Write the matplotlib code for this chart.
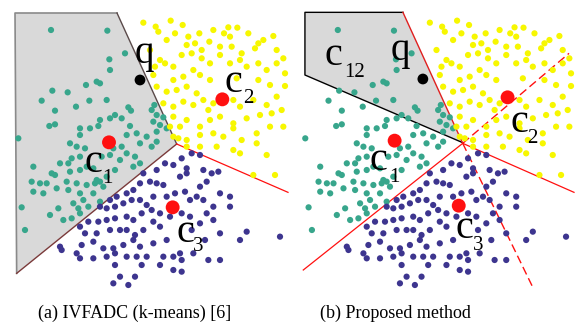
import matplotlib
matplotlib.use("Agg")
import matplotlib.pyplot as plt
from matplotlib.patches import Polygon

# ---- data (arbitrary schematic units, y grows downward) ----
green_pts = [(153,90),(322,92),(375,160),(328,178),(330,210),(290,245),(300,250),(258,255),(157,272),(203,277),
             (125,302),(268,302),(320,300),(165,332),(228,320),(385,322),(393,332),(345,345),(330,355),(365,355),
             (300,360),(463,315),(455,330),(470,345),(490,352),(460,365),(480,375),(500,385),(148,378),(165,373),
             (240,385),(270,385),(240,405),(295,378),(390,378),(380,405),(410,400),(440,410),(470,395),(55,415),
             (210,430),(230,440),(255,445),(340,445),(365,440),(420,430),(455,440),(470,425),(180,490),(205,490),
             (215,475),(240,470),(260,500),(305,470),(330,465),(360,480),(380,460),(405,470),(100,500),(155,520),
             (165,525),(210,515),(240,510),(280,505),(290,540),(300,545),(320,530),(345,510),(400,500),(420,490),
             (95,545),(120,550),(140,550),(200,545),(230,550),(260,555),(285,550),(310,560),(100,575),(130,580),
             (170,565),(205,570),(240,580),(280,580),(250,600),(220,610),(235,625),(265,620),(300,605),(65,622),
             (190,660),(215,655),(240,640),(75,690),(150,645),(175,625)]
yellow_pts = [(430,68),(467,80),(512,62),(548,75),(475,95),(500,120),(525,100),(565,110),(598,100),(640,90),
              (685,82),(712,83),(672,100),(690,110),(745,100),(775,130),(820,108),(790,120),(560,135),(585,130),
              (605,150),(628,125),(660,140),(695,140),(725,160),(765,145),(830,150),(850,175),(450,150),(480,180),
              (495,190),(520,200),(545,165),(575,160),(605,175),(630,190),(660,165),(690,190),(720,180),(740,200),
              (775,190),(800,210),(830,190),(855,220),(465,200),(460,225),(520,240),(550,230),(580,210),(600,225),
              (630,240),(710,235),(775,240),(810,255),(855,258),(470,260),(500,275),(530,270),(560,260),(590,280),
              (610,300),(625,330),(640,310),(700,300),(720,320),(760,300),(800,315),(830,290),(490,310),(520,320),
              (550,305),(580,315),(520,350),(540,380),(560,360),(600,380),(630,360),(660,350),(700,370),(740,355),
              (780,345),(815,340),(845,330),(850,380),(810,380),(600,405),(640,400),(670,410),(700,385),(725,420),
              (770,400),(535,415),(560,420),(600,440),(650,440),(700,450),(720,460),(770,430),(800,465),(760,525),
              (825,525),(560,440),(510,380),(520,410)]
purple_pts = [(575,460),(600,465),(545,475),(495,490),(520,495),(470,510),(430,520),(450,545),(470,550),(490,555),
              (420,550),(400,570),(380,580),(350,590),(330,600),(300,620),(320,625),(345,620),(370,610),(395,600),
              (420,600),(440,615),(460,590),(500,590),(525,580),(555,575),(600,560),(620,545),(635,520),(655,515),
              (610,510),(560,520),(540,530),(560,505),(590,590),(570,600),(610,600),(640,620),(690,620),(660,580),
              (690,590),(480,640),(455,630),(425,640),(400,660),(380,650),(345,655),(320,660),(295,665),(265,665),
              (240,680),(255,700),(290,700),(330,690),(360,690),(380,690),(405,705),(430,690),(460,665),(480,680),
              (510,650),(545,640),(570,650),(575,690),(600,670),(620,640),(640,660),(660,700),(740,695),(720,720),
              (840,710),(615,720),(500,720),(460,730),(420,740),(400,720),(370,735),(340,745),(310,745),(280,725),
              (245,735),(180,740),(185,750),(230,760),(240,775),(280,775),(320,770),(345,760),(380,770),(410,770),
              (440,770),(490,770),(540,760),(545,780),(580,760),(625,780),(660,780),(425,795),(405,830),(385,855),
              (360,830),(340,850),(345,795),(520,810),(545,815),(480,795),(520,770)]

centers_a = [(327,427),(667,298),(518,622)]
query_a = (420,240)
centers_b = [(324,422),(664,292),(517,617)]
query_b = (409,237)

region_a = [(45,39),(351,39),(530,432),(50,820)]
region_b = [(54,37),(349,37),(529,428),(54,225)]
junction = (529,430)
ends_solid = [(49,810),(864,577)]
ends_dashed = [(849,160),(739,860)]

captions = ["(a) IVFADC (k-means) [6]", "(b) Proposed method"]

# ---- styles ----
C_GREEN = "#38a68c"
C_YELLOW = "#f7f700"
C_PURPLE = "#3d358f"
C_RED = "#ff1010"
SERIF = "Liberation Serif"

W, H = 576, 322
fig = plt.figure(figsize=(W/100, H/100), dpi=100)
axA = fig.add_axes([0, 32/H, 290/W, 290/H])
axB = fig.add_axes([287/W, 32/H, 289/W, 290/H])
for ax in (axA, axB):
    ax.set_xlim(0, 870)
    ax.set_ylim(870, 0)
    ax.axis("off")

def scatter_all(ax, centers, q):
    for pts, col in ((green_pts, C_GREEN), (yellow_pts, C_YELLOW), (purple_pts, C_PURPLE)):
        xs = [p[0] for p in pts]; ys = [p[1] for p in pts]
        ax.scatter(xs, ys, s=20, color=col, edgecolors="none", zorder=3)
    ax.scatter([c[0] for c in centers], [c[1] for c in centers], s=100, color=C_RED,
               edgecolors="none", zorder=5)
    ax.scatter([q[0]], [q[1]], s=60, color="black", edgecolors="none", zorder=5)

# panel (a)
axA.add_patch(Polygon(region_a, closed=False, facecolor="#d9d9d9", edgecolor="none", zorder=1))
axA.plot([region_a[3][0], region_a[0][0], region_a[1][0]], [region_a[3][1], region_a[0][1], region_a[1][1]],
         color="#8a8a8a", lw=1.2, zorder=2)
axA.plot([region_a[1][0], region_a[2][0]], [region_a[1][1], region_a[2][1]], color="#5a4a4a", lw=1.0, zorder=2)
axA.plot([region_a[2][0], region_a[3][0]], [region_a[2][1], region_a[3][1]], color="#7a3a3a", lw=1.0, zorder=2)
axA.plot([region_a[2][0], ends_solid[1][0]], [region_a[2][1], ends_solid[1][1]], color=C_RED, lw=0.9, zorder=2)
scatter_all(axA, centers_a, query_a)

def lbl(ax, x, y, s, size):
    ax.text(x, y, s, fontsize=size, family=SERIF, ha="left", va="baseline", zorder=6)

lbl(axA, 255, 515, "c", 29); lbl(axA, 306, 548, "1", 15)
lbl(axA, 675, 275, "c", 29); lbl(axA, 728, 310, "2", 15)
lbl(axA, 528, 725, "c", 29); lbl(axA, 580, 752, "3", 15)
lbl(axA, 403, 190, "q", 28)

# panel (b)
axB.add_patch(Polygon(region_b, closed=True, facecolor="#d9d9d9", edgecolor="none", zorder=1))
axB.plot([region_b[2][0], region_b[3][0], region_b[0][0], region_b[1][0]],
         [region_b[2][1], region_b[3][1], region_b[0][1], region_b[1][1]], color="black", lw=1.0, zorder=2)
axB.plot([region_b[1][0], junction[0]], [region_b[1][1], junction[1]], color="#e02020", lw=1.0, zorder=2)
for e in ends_solid:
    axB.plot([junction[0], e[0]], [junction[1], e[1]], color=C_RED, lw=0.9, zorder=2)
for e in ends_dashed:
    axB.plot([junction[0], e[0]], [junction[1], e[1]], color=C_RED, lw=1.0, ls=(0, (6, 3)), zorder=2)
scatter_all(axB, centers_b, query_b)

lbl(axB, 112, 195, "c", 29); lbl(axB, 172, 230, "12", 15)
lbl(axB, 312, 180, "q", 28)
lbl(axB, 249, 510, "c", 29); lbl(axB, 307, 545, "1", 15)
lbl(axB, 672, 395, "c", 29); lbl(axB, 724, 430, "2", 15)
lbl(axB, 507, 715, "c", 29); lbl(axB, 559, 750, "3", 15)

fig.text(135/W, 1 - 318/H, captions[0], fontsize=13, family=SERIF, ha="center", va="baseline")
fig.text(395/W, 1 - 318/H, captions[1], fontsize=13, family=SERIF, ha="center", va="baseline")

fig.savefig("out.png", dpi=100, facecolor="white")
